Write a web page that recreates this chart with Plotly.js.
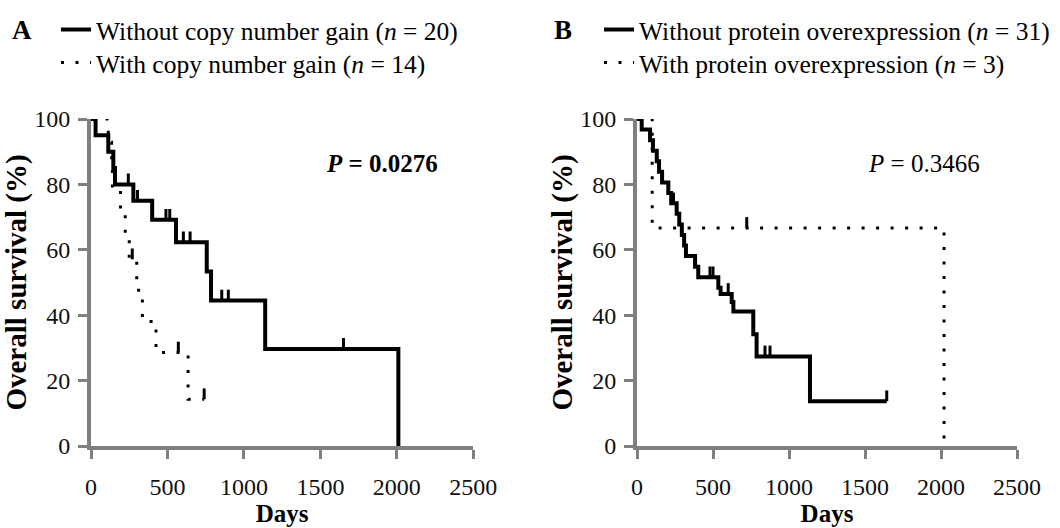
<!DOCTYPE html>
<html>
<head>
<meta charset="utf-8">
<script src="https://cdn.plot.ly/plotly-3.0.1.min.js"></script>
<style>
  html, body { margin: 0; padding: 0; background: #fff; }
  #chart { width: 1060px; height: 528px; }
</style>
</head>
<body>
<div id="chart"></div>
<script>
// ---------- Data ----------
// Panel A: copy number gain
const daysA_without = [0, 30, 113, 146, 157, 277, 400, 556, 757, 785, 1139, 2010];
const survA_without = [100, 95, 90, 85, 80, 75, 69.2, 62.3, 53.4, 44.5, 29.7, 0];
const censorDaysA_without = [244, 304, 490, 515, 604, 648, 855, 898, 1651];
const censorSurvA_without = [80, 75, 69.2, 69.2, 62.3, 62.3, 44.5, 44.5, 29.7];

const daysA_with = [0, 113, 135, 140, 193, 224, 250, 299, 336, 425, 635, 740];
const survA_with = [100, 92.9, 85.7, 78.6, 71.4, 64.3, 57.1, 47.6, 38.1, 28.6, 14.3, 14.3];
const censorDaysA_with = [270, 571, 740];
const censorSurvA_with = [57.1, 28.6, 14.3];

// Panel B: protein overexpression
const daysB_without = [0, 31, 86, 105, 130, 145, 165, 206, 225, 261, 278, 295, 310, 322, 382, 403, 535, 550, 623, 634, 765, 787, 1138, 1643];
const survB_without = [100, 96.8, 93.5, 90.3, 87.1, 83.9, 80.6, 77.4, 74.2, 71.0, 67.7, 64.5, 61.3, 58.1, 54.8, 51.6, 48.4, 46.5, 44.0, 41.1, 34.2, 27.4, 13.7, 13.7];
const censorDaysB_without = [240, 480, 500, 600, 842, 875, 1643];
const censorSurvB_without = [74.2, 51.6, 51.6, 46.5, 27.4, 27.4, 13.7];

const daysB_with = [0, 100, 2020];
const survB_with = [100, 66.7, 0];
const censorDaysB_with = [722];
const censorSurvB_with = [66.7];

// Labels
const legendA = ['Without copy number gain (<i>n</i> = 20)', 'With copy number gain (<i>n</i> = 14)'];
const legendB = ['Without protein overexpression (<i>n</i> = 31)', 'With protein overexpression (<i>n</i> = 3)'];
const pTextA = '<b><i>P</i> = 0.0276</b>';
const pTextB = '<i>P</i> = 0.3466';
const xTickVals = [0, 500, 1000, 1500, 2000, 2500];
const yTickVals = [0, 20, 40, 60, 80, 100];

// ---------- Styling ----------
const FONT = 'Liberation Serif, Times New Roman, serif';
const TICK_H = 3.3;   // censor tick height (survival % units)
const W = 1060, H = 528;
const SOLID = {color: '#000', width: 4, shape: 'hv'};
const DOTTED = {color: '#000', width: 3, shape: 'hv', dash: '3px,11.5px'};

function curve(x, y, name, line, xa, ya, legend) {
  return {type: 'scatter', mode: 'lines', x: x, y: y, name: name, line: line,
          xaxis: xa, yaxis: ya, legend: legend, hoverinfo: 'skip'};
}
function censors(x, y, xa, ya) {
  return {type: 'scatter', mode: 'markers', x: x, y: y, showlegend: false,
          xaxis: xa, yaxis: ya, hoverinfo: 'skip',
          marker: {size: 1, color: 'rgba(0,0,0,0)'},
          error_y: {type: 'data', symmetric: false,
                    array: x.map(() => TICK_H), arrayminus: x.map(() => 0),
                    color: '#000', thickness: 3, width: 0}};
}

const traces = [
  curve(daysA_without, survA_without, legendA[0], SOLID, 'x', 'y', 'legend'),
  curve(daysA_with, survA_with, legendA[1], DOTTED, 'x', 'y', 'legend2'),
  censors(censorDaysA_without, censorSurvA_without, 'x', 'y'),
  censors(censorDaysA_with, censorSurvA_with, 'x', 'y'),
  curve(daysB_without, survB_without, legendB[0], SOLID, 'x2', 'y2', 'legend3'),
  curve(daysB_with, survB_with, legendB[1], DOTTED, 'x2', 'y2', 'legend4'),
  censors(censorDaysB_without, censorSurvB_without, 'x2', 'y2'),
  censors(censorDaysB_with, censorSurvB_with, 'x2', 'y2')
];

const yDomain = [(H - 446) / H, (H - 119) / H];

function xAxis(domain, anchor) {
  return {
    domain: domain, anchor: anchor, range: [0, 2500],
    tickvals: xTickVals, ticktext: xTickVals.map(String),
    showline: true, linecolor: '#808080', linewidth: 4,
    ticks: 'outside', ticklen: 9, tickwidth: 3, tickcolor: '#808080',
    showgrid: false, zeroline: false, fixedrange: true,
    tickfont: {family: FONT, size: 24, color: '#111'},
    ticklabelstandoff: 7,
    title: {text: '<b>Days</b>', font: {family: FONT, size: 25, color: '#000'}, standoff: 6}
  };
}
function yAxis(anchor) {
  return {
    domain: yDomain, anchor: anchor, range: [0, 100],
    tickvals: yTickVals, ticktext: yTickVals.map(String),
    showline: true, linecolor: '#808080', linewidth: 4,
    ticks: 'outside', ticklen: 9, tickwidth: 3, tickcolor: '#808080',
    showgrid: false, zeroline: false, fixedrange: true,
    tickfont: {family: FONT, size: 24, color: '#111'},
    ticklabelstandoff: 3,
    title: {text: '<b>Overall survival (%)</b>', font: {family: FONT, size: 29, color: '#000'}, standoff: 0}
  };
}

function legendAt(xPx, yPx) {
  return {
    x: xPx / W, y: 1 - yPx / H, xanchor: 'left', yanchor: 'middle',
    bgcolor: 'rgba(0,0,0,0)', borderwidth: 0,
    font: {family: FONT, size: 25.5, color: '#000'},
    itemwidth: 30
  };
}

const layout = {
  width: W, height: H,
  margin: {l: 0, r: 0, t: 0, b: 0},
  paper_bgcolor: '#fff', plot_bgcolor: '#fff',
  showlegend: true,
  xaxis: xAxis([91 / W, 473.3 / W], 'y'),
  yaxis: yAxis('x'),
  xaxis2: xAxis([637 / W, 1017 / W], 'y2'),
  yaxis2: yAxis('x2'),
  legend: legendAt(56, 30),
  legend2: legendAt(56, 63),
  legend3: legendAt(599, 30),
  legend4: legendAt(599, 63),
  annotations: [
    {text: '<b>A</b>', xref: 'paper', yref: 'paper', x: 22 / W, y: 1 - 30 / H,
     showarrow: false, xanchor: 'center', yanchor: 'middle',
     font: {family: FONT, size: 27, color: '#000'}},
    {text: '<b>B</b>', xref: 'paper', yref: 'paper', x: 563 / W, y: 1 - 30 / H,
     showarrow: false, xanchor: 'center', yanchor: 'middle',
     font: {family: FONT, size: 27, color: '#000'}},
    {text: pTextA, xref: 'x', yref: 'y', x: 1900, y: 86.5, showarrow: false,
     xanchor: 'center', yanchor: 'middle', font: {family: FONT, size: 25, color: '#000'}},
    {text: pTextB, xref: 'x2', yref: 'y2', x: 1885, y: 86.5, showarrow: false,
     xanchor: 'center', yanchor: 'middle', font: {family: FONT, size: 25, color: '#000'}}
  ]
};

Plotly.newPlot('chart', traces, layout, {staticPlot: true, displayModeBar: false});
</script>
</body>
</html>
